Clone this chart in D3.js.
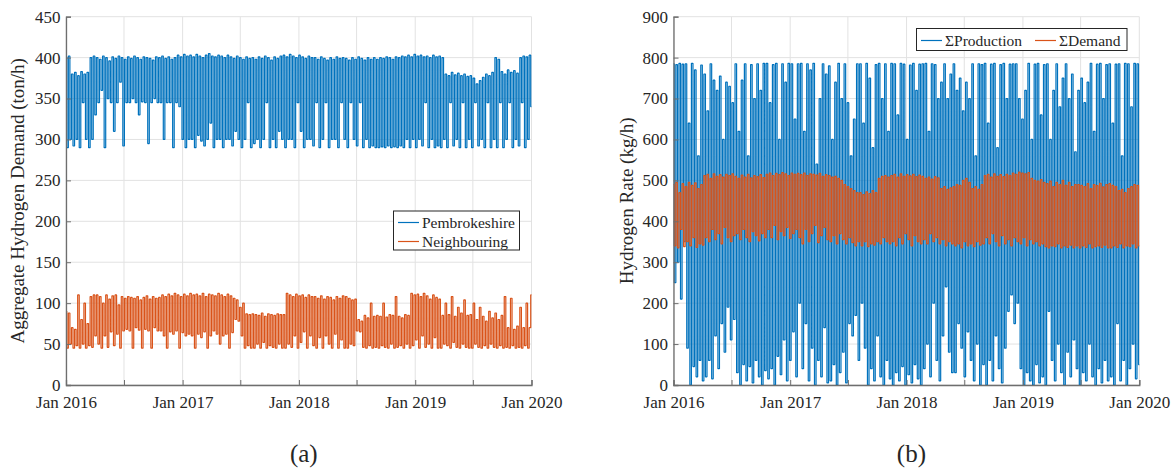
<!DOCTYPE html>
<html>
<head>
<meta charset="utf-8">
<script src="https://cdn.jsdelivr.net/npm/d3@7"></script>
<style>
  body { margin: 0; background: #fff; }
  svg text { font-family: "Liberation Serif", "Times New Roman", serif; fill: #262626; }
</style>
</head>
<body>
<svg id="chart" width="1175" height="470" font-family="Liberation Serif"></svg>
<script>
// values, evenly spaced from Jan 2016 to Jan 2020 (20 per ~3.2 months)
const pembrokeshire = [
  400,290,402,300,380,292,382,300,378,290,383,345,380,300,382,290,400,300,402,330,
  400,345,398,360,402,290,400,350,396,345,401,310,399,345,402,370,400,292,398,345,
  401,345,399,350,402,345,400,330,398,346,401,345,400,295,399,345,397,350,401,345,
  400,345,402,300,399,345,401,345,398,290,400,345,403,340,401,300,404,290,402,300,
  403,300,401,290,404,305,402,298,400,292,403,300,405,320,402,290,401,300,403,300,
  402,290,400,300,403,300,401,292,399,310,402,300,400,290,398,300,401,345,399,290,
  400,295,398,300,401,290,399,300,402,345,400,290,397,300,401,290,399,310,402,300,
  403,290,401,300,404,300,402,290,400,345,403,310,401,290,399,300,402,300,400,292,
  400,345,398,290,401,300,399,345,397,290,400,300,398,300,401,290,399,345,400,300,
  399,290,397,345,400,300,398,292,401,345,399,290,397,300,400,290,398,292,400,290,
  398,290,400,291,399,290,401,292,400,290,398,291,401,290,400,292,402,290,401,300,
  403,290,401,300,404,290,402,300,403,292,401,345,402,290,400,300,403,290,401,292,
  402,290,400,300,380,290,378,345,382,292,379,300,381,290,378,345,380,290,377,300,
  378,290,375,345,368,292,372,300,376,290,380,345,378,290,382,300,400,290,398,345,
  383,290,380,300,385,345,382,290,384,300,381,292,400,345,402,290,401,300,403,340
];
const neighbouring = [
  90,45,88,50,70,45,68,48,110,45,80,50,100,45,75,48,108,46,110,60,
  110,50,108,45,100,60,110,46,105,65,109,48,110,62,98,45,108,66,106,68,
  108,66,107,45,106,70,108,67,104,45,107,68,109,66,105,45,108,70,106,66,
  107,66,110,60,108,45,111,65,109,62,112,66,110,45,108,64,111,60,109,62,
  112,60,110,45,111,62,109,58,112,65,108,45,111,60,110,66,109,62,112,50,
  110,60,108,62,111,45,109,64,106,80,104,78,95,60,100,45,87,48,86,45,
  87,45,86,50,85,45,88,52,84,45,87,48,86,46,85,45,87,50,86,45,
  86,45,112,50,110,46,108,60,111,45,109,52,110,65,107,45,110,60,108,48,
  108,45,106,58,109,45,105,60,108,50,107,45,104,62,108,45,106,55,109,45,
  108,45,106,50,104,48,105,66,80,65,78,46,85,45,82,48,100,45,84,46,
  85,45,84,48,100,46,83,45,86,50,85,45,108,46,84,48,82,45,86,50,
  85,45,112,48,110,55,111,45,108,60,112,46,109,50,105,45,110,58,107,45,
  105,45,85,50,100,48,86,45,108,52,84,46,95,45,88,50,104,46,85,45,
  86,45,100,50,80,46,95,45,84,48,78,45,90,50,82,46,88,45,80,48,
  85,45,108,46,70,45,106,48,68,45,72,46,95,45,70,48,100,45,70,110
];
const production = [
  785,250,783,300,786,210,784,350,785,90,640,0,786,45,770,20,560,60,782,10,
  760,20,670,60,785,15,745,120,720,40,755,150,600,80,740,190,730,110,690,160,
  785,30,620,0,745,50,785,10,560,45,783,5,700,60,785,20,720,0,786,35,
  786,15,690,40,783,0,786,70,600,25,785,110,740,10,786,60,785,130,650,20,
  785,200,786,40,620,150,785,10,770,90,786,0,540,60,700,20,785,140,760,5,
  780,10,600,50,740,0,786,30,700,80,785,5,690,150,560,120,650,170,785,60,
  785,200,640,90,786,0,750,40,580,10,783,120,786,20,700,0,785,60,620,15,
  786,0,785,30,660,10,786,45,784,0,600,25,782,5,786,50,720,15,784,0,
  785,40,786,100,620,20,785,200,783,60,700,10,740,120,785,240,700,80,760,30,
  785,30,720,150,750,90,670,20,740,130,700,60,785,10,560,100,785,0,783,50,
  786,0,640,60,784,10,786,120,580,40,783,5,786,90,700,180,784,220,785,150,
  785,200,700,40,650,0,720,30,786,10,600,0,784,50,786,5,660,20,783,0,
  785,180,600,60,720,10,785,100,680,30,750,0,785,80,700,20,760,110,570,40,
  720,0,750,30,690,10,740,100,786,20,620,0,784,40,786,5,700,60,783,10,
  785,20,640,0,784,150,785,10,560,60,786,0,785,40,680,100,786,15,785,50
];
const demand = [
  490,340,495,335,470,380,492,338,485,350,495,340,488,360,494,336,480,345,490,342,
  512,360,515,350,505,380,516,355,510,370,514,345,508,385,515,360,512,350,516,365,
  510,370,505,355,513,380,508,360,515,350,506,375,512,365,509,352,514,370,507,360,
  515,380,518,360,512,390,517,355,514,375,519,365,516,385,512,358,518,370,515,380,
  517,360,514,345,518,380,512,350,516,370,515,390,513,348,517,365,510,385,514,355,
  512,350,508,365,510,345,505,370,500,355,490,345,485,360,480,348,475,340,470,350,
  470,340,465,350,472,338,468,345,475,342,470,350,505,345,510,360,512,350,508,345,
  512,350,515,340,508,360,516,345,510,370,514,355,511,340,515,365,509,350,513,345,
  510,355,505,345,508,370,503,350,509,360,506,345,480,355,485,340,478,350,482,345,
  485,340,490,345,488,335,500,350,505,340,495,345,480,338,485,350,478,342,490,345,
  512,360,515,345,508,370,516,350,510,340,514,365,509,345,515,355,512,340,518,360,
  515,350,520,345,518,360,516,340,519,355,505,345,500,350,498,340,502,345,495,338,
  492,335,498,340,485,338,495,345,490,335,500,340,488,336,495,342,485,335,490,340,
  490,335,488,340,485,336,492,345,480,335,490,338,487,340,493,336,484,342,490,335,
  492,335,488,340,485,336,475,345,478,335,470,340,480,338,485,345,490,335,488,340
];

const yTicksA = [0, 50, 100, 150, 200, 250, 300, 350, 400, 450];
const yTicksB = [0, 100, 200, 300, 400, 500, 600, 700, 800, 900];
const xTickDates = ["2016-01-01","2016-07-01","2017-01-01","2017-07-01","2018-01-01",
                    "2018-07-01","2019-01-01","2019-07-01","2020-01-01"];
const xTickLabels = ["Jan 2016","","Jan 2017","","Jan 2018","","Jan 2019","","Jan 2020"];

const blue = "#0072BD";
const orange = "#D95319";

const svg = d3.select("#chart");
const parseDate = d3.timeParse("%Y-%m-%d");
const tStart = parseDate("2016-01-01");
const tEnd = parseDate("2020-01-01");

const drawPanel = cfg => {
  const xScale = d3.scaleTime()
    .domain([tStart, tEnd])
    .range([cfg.left, cfg.right]);

  const yScale = d3.scaleLinear()
    .domain([0, d3.max(cfg.yTicks)])
    .range([cfg.bottom, cfg.top]);

  const g = svg.append("g");

  // grid
  g.selectAll(".gx").data(xTickDates).enter().append("line")
    .attr("x1", d => xScale(parseDate(d))).attr("x2", d => xScale(parseDate(d)))
    .attr("y1", cfg.top).attr("y2", cfg.bottom)
    .attr("stroke", "#e2e2e2").attr("stroke-width", 1);
  g.selectAll(".gy").data(cfg.yTicks).enter().append("line")
    .attr("x1", cfg.left).attr("x2", cfg.right)
    .attr("y1", d => yScale(d)).attr("y2", d => yScale(d))
    .attr("stroke", "#e2e2e2").attr("stroke-width", 1);

  // series -- dense hourly data, drawn as steps so each sample is a vertical stroke
  cfg.series.forEach(s => {
    const n = s.values.length;
    const line = d3.line()
      .x((d, i) => xScale(new Date(+tStart + i * (tEnd - tStart) / (n - 1))))
      .y(d => yScale(d))
      .curve(d3.curveStep);
    g.append("path")
      .attr("d", line(s.values))
      .attr("fill", "none")
      .attr("stroke", s.color)
      .attr("stroke-width", 1.2)
      .attr("stroke-linejoin", "bevel");
  });

  // axes (MATLAB style, ticks pointing in)
  const xAxis = d3.axisBottom(xScale)
    .tickValues(xTickDates.map(parseDate))
    .tickSize(-5)
    .tickPadding(11)
    .tickFormat((d, i) => xTickLabels[i]);
  const xAxisG = g.append("g")
    .attr("transform", `translate(0,${cfg.bottom})`)
    .call(xAxis)
    .attr("font-family", "Liberation Serif")
    .attr("font-size", 17);
  xAxisG.select(".domain").attr("stroke", "#6e6e6e").attr("stroke-width", 1.3);
  xAxisG.selectAll(".tick line").attr("stroke", "#6e6e6e");
  xAxisG.selectAll(".tick text").attr("fill", "#262626");

  const yAxis = d3.axisLeft(yScale)
    .tickValues(cfg.yTicks)
    .tickSize(-5)
    .tickPadding(5.5);
  const yAxisG = g.append("g")
    .attr("transform", `translate(${cfg.left},0)`)
    .call(yAxis)
    .attr("font-family", "Liberation Serif")
    .attr("font-size", 17);
  yAxisG.select(".domain").attr("stroke", "#6e6e6e").attr("stroke-width", 1.3);
  yAxisG.selectAll(".tick line").attr("stroke", "#6e6e6e");
  yAxisG.selectAll(".tick text").attr("fill", "#262626");

  // y label
  g.append("text")
    .attr("transform", `translate(${cfg.yLabelX},${(cfg.top + cfg.bottom) / 2}) rotate(-90)`)
    .attr("text-anchor", "middle")
    .attr("font-size", 19)
    .text(cfg.yLabel);

  // legend
  const lg = g.append("g");
  lg.append("rect")
    .attr("x", cfg.legend.x).attr("y", cfg.legend.y)
    .attr("width", cfg.legend.w).attr("height", cfg.legend.h)
    .attr("fill", "#fff").attr("stroke", "#262626").attr("stroke-width", 1);
  cfg.series.forEach((s, i) => {
    const p = cfg.legend.items[i];
    lg.append("line")
      .attr("x1", p.x).attr("x2", p.x + 21)
      .attr("y1", p.y).attr("y2", p.y)
      .attr("stroke", s.color).attr("stroke-width", 1.2);
    lg.append("text")
      .attr("x", p.x + 24).attr("y", p.y + 5)
      .attr("font-size", 15.5)
      .text(s.name);
  });

  // caption
  g.append("text")
    .attr("x", (cfg.left + cfg.right) / 2 + 5).attr("y", 462)
    .attr("text-anchor", "middle")
    .attr("font-size", 25)
    .text(cfg.caption);
};

drawPanel({
  left: 66, right: 531.5, top: 16.7, bottom: 385,
  yTicks: yTicksA,
  yLabel: "Aggregate Hydrogen Demand (ton/h)",
  yLabelX: 24,
  series: [
    { name: "Pembrokeshire", values: pembrokeshire, color: blue },
    { name: "Neighbouring", values: neighbouring, color: orange }
  ],
  legend: { x: 393.5, y: 211, w: 126, h: 39,
            items: [{ x: 398, y: 222.5 }, { x: 398, y: 241.5 }] },
  caption: "(a)"
});

drawPanel({
  left: 673.5, right: 1139.3, top: 16.7, bottom: 385,
  yTicks: yTicksB,
  yLabel: "Hydrogen Rate (kg/h)",
  yLabelX: 633,
  series: [
    { name: "\u03A3Production", values: production, color: blue },
    { name: "\u03A3Demand", values: demand, color: orange }
  ],
  legend: { x: 916.5, y: 28.5, w: 210.5, h: 22,
            items: [{ x: 921, y: 40.5 }, { x: 1035, y: 40.5 }] },
  caption: "(b)"
});
</script>
</body>
</html>
